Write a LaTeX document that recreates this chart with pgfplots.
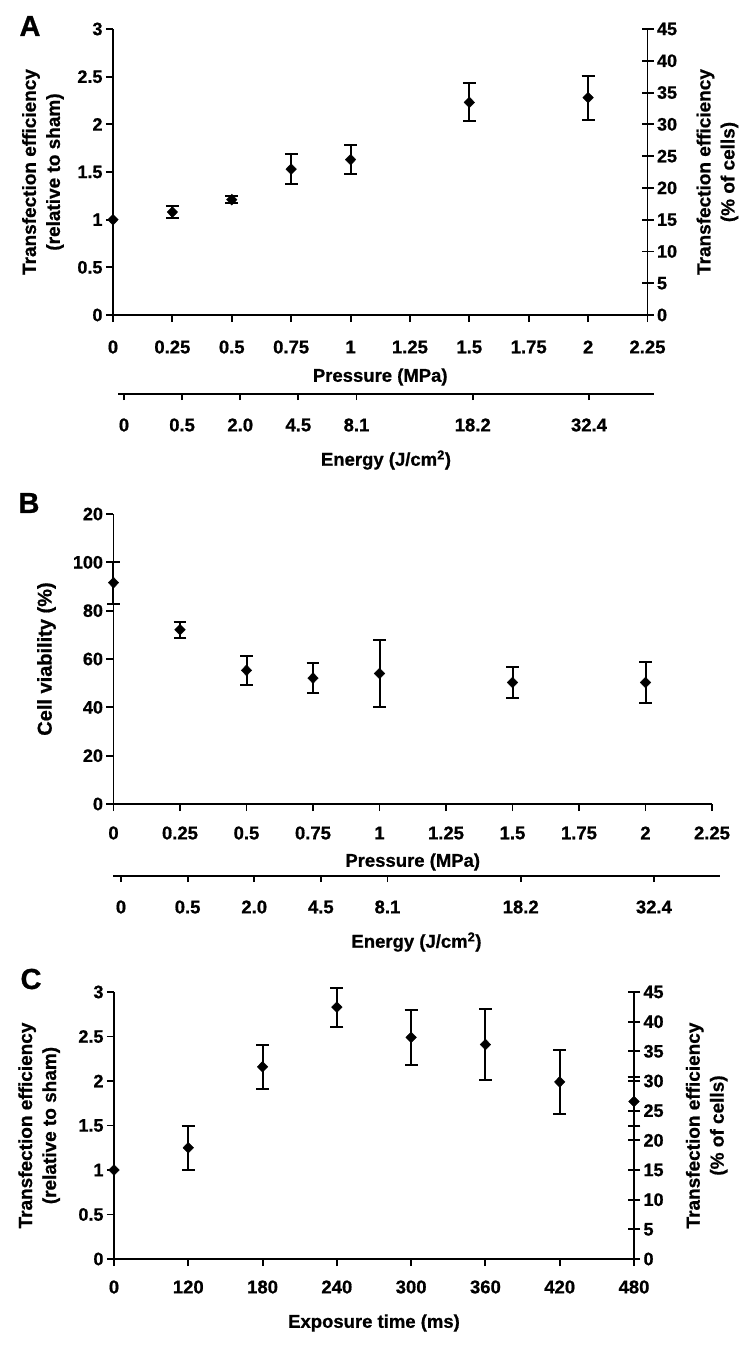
\documentclass[border=0pt]{standalone}
\usepackage{fontspec}
\setmainfont{Liberation Sans}[BoldFeatures={FakeBold=0.8}]
\usepackage{pgfplots}
\pgfplotsset{compat=1.18}
\newcommand\tf{\fontsize{18.5}{20}\selectfont\bfseries}
\newcommand\yf{\fontsize{18}{20}\selectfont\bfseries}
\newcommand\lf{\fontsize{19}{24}\selectfont\bfseries}
\newcommand\xf{\fontsize{18.5}{22}\selectfont\bfseries}
\pgfplotsset{
  base/.style={
    scale only axis, clip=false,
    axis line style={line width=1.9pt, black},
    tick style={line width=1.9pt, black},
    major tick length=7pt,
    tick align=outside,
    xticklabel style={font=\tf, anchor=center},
    yticklabel style={font=\yf},
    /pgf/number format/assume math mode=true,
  },
  eb/.style={only marks, mark=diamond*, mark size=5.4pt, black,
    mark options={solid, fill=black, xscale=1.3},
    error bars/.cd, y dir=both, y explicit,
    error bar style={line width=2pt, black},
    error mark options={rotate=90, line width=2pt, mark size=6.4pt, black}},
  pt/.style={only marks, mark=diamond*, mark size=5.4pt, black,
    mark options={solid, fill=black, xscale=1.3}},
  energy/.style={
    scale only axis, height=10pt, ymin=0, ymax=1,
    axis x line*=bottom, axis y line=none,
    axis line style={line width=1.9pt, black},
    tick style={line width=1.9pt, black},
    major tick length=6pt, xtick align=outside,
    xtick={0,0.25,0.5,0.75,1,1.5,2},
    xticklabels={0,0.5,2.0,4.5,8.1,18.2,32.4},
    xticklabel style={font=\tf, anchor=center, yshift=-25pt},
    xlabel={Energy (J/cm\textsuperscript{2})},
    xlabel style={font=\xf, at={(axis description cs:0.5,0)}, anchor=center, yshift=-66pt},
  },
}
\begin{document}
\begin{tikzpicture}
\useasboundingbox (0,0) rectangle (750pt,-1345pt);
% panel letters
\node[font=\fontsize{29}{29}\selectfont\bfseries] at (30pt,-26pt) {A};
\node[font=\fontsize{29}{29}\selectfont\bfseries] at (29pt,-503pt) {B};
\node[font=\fontsize{29}{29}\selectfont\bfseries] at (31pt,-979pt) {C};

% ---------------- Panel A ----------------
\begin{axis}[base,
  width=534.5pt, height=286pt, at={(113pt,-315pt)}, anchor=south west,
  xmin=0, xmax=2.25, ymin=0, ymax=3,
  axis x line*=bottom, axis y line*=left,
  xtick={0,0.25,0.5,0.75,1,1.25,1.5,1.75,2,2.25},
  xticklabels={0,0.25,0.5,0.75,1,1.25,1.5,1.75,2,2.25},
  xticklabel style={yshift=-25pt},
  ytick={0,0.5,1,1.5,2,2.5,3},
  yticklabels={0,0.5,1,1.5,2,2.5,3},
  xlabel={Pressure (MPa)},
  xlabel style={font=\xf, at={(axis description cs:0.5,0)}, anchor=center, yshift=-62pt},
  every axis y label/.style={at={(axis description cs:-0.131,0.5)}, rotate=90, anchor=center, align=center, font=\lf},
  ylabel={Transfection efficiency\\(relative to sham)},
]
\addplot[pt] coordinates {(0,1.0)};
\addplot[eb] coordinates {
  (0.25,1.08) +- (0,0.06)
  (0.5,1.21) +- (0,0.04)
  (0.75,1.53) +- (0,0.16)
  (1,1.63) +- (0,0.15)
  (1.5,2.23) +- (0,0.20)
  (2,2.28) +- (0,0.23)
};
\end{axis}
\begin{axis}[base,
  width=534.5pt, height=286pt, at={(113pt,-315pt)}, anchor=south west,
  xmin=0, xmax=2.25, ymin=0, ymax=45,
  axis x line=none, axis y line*=right,
  ytick align=center, major tick length=12pt,
  ytick={0,5,10,15,20,25,30,35,40,45},
  yticklabels={0,5,10,15,20,25,30,35,40,45},
  every axis y label/.style={at={(axis description cs:1.131,0.5)}, rotate=90, anchor=center, align=center, font=\lf},
  ylabel={Transfection efficiency\\(\% of cells)},
]
\end{axis}
\begin{axis}[energy, width=536pt, at={(118pt,-394pt)}, anchor=south west,
  xmin=-0.0258, xmax=2.2796]
\end{axis}

% ---------------- Panel B ----------------
\begin{axis}[base,
  width=598.5pt, height=290pt, at={(113.5pt,-804pt)}, anchor=south west,
  xmin=0, xmax=2.25, ymin=0, ymax=120,
  axis x line*=bottom, axis y line*=left,
  xtick={0,0.25,0.5,0.75,1,1.25,1.5,1.75,2,2.25},
  xticklabels={0,0.25,0.5,0.75,1,1.25,1.5,1.75,2,2.25},
  xticklabel style={yshift=-22pt},
  ytick={0,20,40,60,80,100,120},
  yticklabels={0,20,40,60,80,100,20},
  xlabel={Pressure (MPa)},
  xlabel style={font=\xf, at={(axis description cs:0.5,0)}, anchor=center, yshift=-58pt},
  every axis y label/.style={at={(axis description cs:-0.112,0.5)}, rotate=90, anchor=center, align=center, font=\fontsize{20}{24}\selectfont\bfseries},
  ylabel={Cell viability (\%)},
]
\addplot[eb] coordinates {
  (0,91.6) +- (0,8.7)
  (0.25,72.1) +- (0,3.4)
  (0.5,55.3) +- (0,6.0)
  (0.75,52.1) +- (0,6.3)
  (1,54.0) +- (0,13.8)
  (1.5,50.3) +- (0,6.3)
  (2,50.3) +- (0,8.5)
};
\end{axis}
\begin{axis}[energy, width=607pt, at={(113pt,-876pt)}, anchor=south west,
  xmin=-0.030, xmax=2.248]
\end{axis}

% ---------------- Panel C ----------------
\begin{axis}[base,
  width=520pt, height=267pt, at={(114pt,-1259pt)}, anchor=south west,
  xmin=0, xmax=7, ymin=0, ymax=3,
  axis x line*=bottom, axis y line*=left,
  xtick={0,1,2,3,4,5,6,7},
  xticklabels={0,120,180,240,300,360,420,480},
  xticklabel style={yshift=-21pt},
  ytick={0,0.5,1,1.5,2,2.5,3},
  yticklabels={0,0.5,1,1.5,2,2.5,3},
  xlabel={Exposure time (ms)},
  xlabel style={font=\xf, at={(axis description cs:0.5,0)}, anchor=center, yshift=-64pt},
  every axis y label/.style={at={(axis description cs:-0.144,0.5)}, rotate=90, anchor=center, align=center, font=\lf},
  ylabel={Transfection efficiency\\(relative to sham)},
]
\addplot[pt] coordinates {(0,1.0)};
\addplot[eb] coordinates {
  (1,1.25) +- (0,0.245)
  (2,2.16) +- (0,0.25)
  (3,2.83) +- (0,0.22)
  (4,2.49) +- (0,0.31)
  (5,2.41) +- (0,0.40)
  (6,1.99) +- (0,0.36)
  (7,1.77) +- (0,0.28)
};
\end{axis}
\begin{axis}[base,
  width=520pt, height=267pt, at={(114pt,-1259pt)}, anchor=south west,
  xmin=0, xmax=7, ymin=0, ymax=45,
  axis x line=none, axis y line*=right,
  ytick align=center, major tick length=12pt,
  ytick={0,5,10,15,20,25,30,35,40,45},
  yticklabels={0,5,10,15,20,25,30,35,40,45},
  every axis y label/.style={at={(axis description cs:1.14,0.5)}, rotate=90, anchor=center, align=center, font=\lf},
  ylabel={Transfection efficiency\\(\% of cells)},
]
\end{axis}
\end{tikzpicture}
\end{document}
